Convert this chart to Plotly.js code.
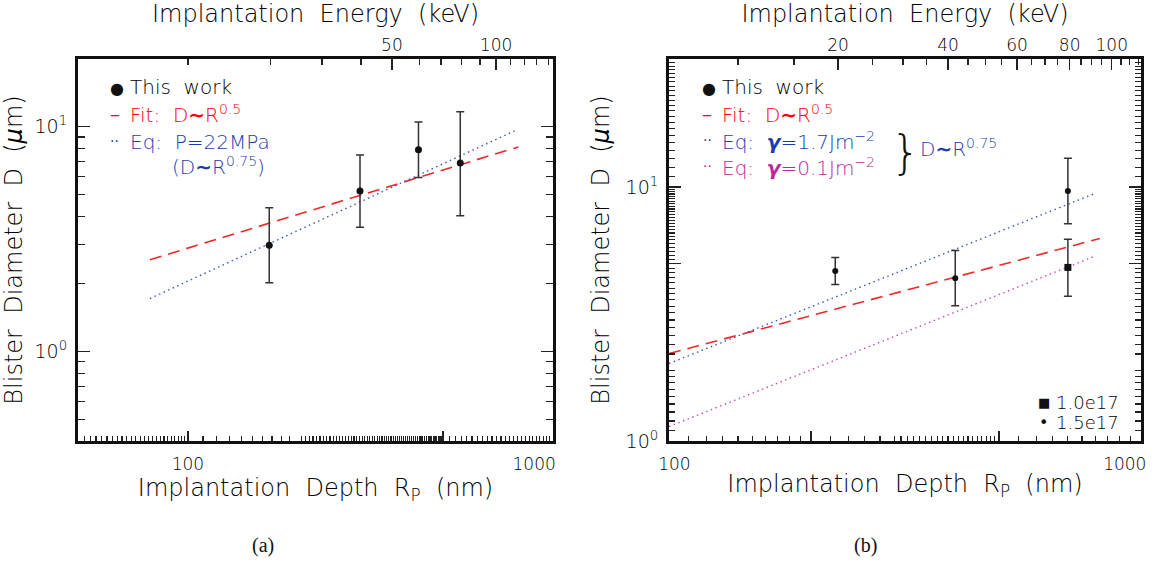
<!DOCTYPE html>
<html>
<head>
<meta charset="utf-8">
<script src="https://cdn.plot.ly/plotly-3.0.1.min.js"></script>
<style>html,body{margin:0;padding:0;background:#fff;}</style>
</head>
<body>
<div id="chart" style="width:1157px;height:565px;"></div>
<script>
// ---------------- DATA ----------------
// Panel (a)
const depthA      = [167, 296, 428, 557];      // nm
const diamA       = [2.97, 5.18, 7.9, 6.9];    // µm
const diamA_hi    = [4.36, 7.48, 10.5, 11.66];
const diamA_lo    = [2.02, 3.57, 5.95, 4.02];
const fitA_x      = [78.7, 804];
const fitA_y      = [2.56, 8.13];
const eqA_x       = [78.7, 787];
const eqA_y       = [1.72, 9.6];
// top energy axis of (a): energy (keV) -> depth (nm)
const energyA_major      = [50, 100];
const energyA_majorDepth = [362, 698];
const energyA_minor      = [10, 20, 30, 40, 60, 70, 80, 90, 110, 120, 130, 140];
const energyA_minorDepth = [100, 168, 233, 298, 430, 493, 560, 631, 766, 834, 902, 970];

// Panel (b)
const depthB_c    = [225, 404, 700];           // 1.5e17 (circles)
const diamB_c     = [4.68, 4.38, 9.67];
const diamB_c_hi  = [5.29, 5.63, 13.0];
const diamB_c_lo  = [4.14, 3.41, 7.17];
const depthB_s    = [700];                     // 1.0e17 (square)
const diamB_s     = [4.83];
const diamB_s_hi  = [6.24];
const diamB_s_lo  = [3.72];
const fitB_x      = [100, 818];
const fitB_y      = [2.21, 6.28];
const eqB1_x      = [100, 799];                // gamma = 1.7 J/m2
const eqB1_y      = [2.02, 9.45];
const eqB2_x      = [100, 799];                // gamma = 0.1 J/m2
const eqB2_y      = [1.14, 5.35];
const energyB_major      = [20, 40, 60, 80, 100];
const energyB_majorDepth = [228, 390, 546, 706, 867];
const energyB_minor      = [10, 15, 25, 30, 35, 45, 50, 55, 65, 70, 75, 85, 90, 95, 105, 110, 115];
const energyB_minorDepth = [140, 184, 270, 313, 351, 430, 468, 507, 586, 626, 666, 746, 786, 826, 907, 947, 987];

// ---------------- helpers ----------------
function range(a, b, s) { const r = []; for (let v = a; v <= b + 1e-9; v += s) r.push(+v.toFixed(3)); return r; }
const sub = (a, b) => a.map((v, i) => v - b[i]);

const FONT = 'DejaVu Sans';
const W8 = 300;
const INK = '#000';
const RED = 'rgb(240,40,40)';
const BLUE = 'rgb(60,90,175)';
const MAG = 'rgb(200,80,165)';
const RED_T = 'rgb(255,0,0)';
const BLUE_T = 'rgb(30,60,170)';
const MAG_T = 'rgb(190,40,150)';
const NB = '\u00a0';

// minor tick sets (axis decoration)
const xA_minor = [].concat(range(52, 98, 2), range(110, 190, 10), range(205, 495, 5), range(520, 980, 20));
const xB_minor = [].concat(range(110, 190, 10), range(220, 280, 20), range(300, 490, 10), range(550, 950, 50));
const yA_minor = [0.5, 0.6, 0.7, 0.8, 0.9, 2, 3, 4, 5, 6, 7, 8, 9];
const yB_minor = [].concat(range(1.1, 1.9, 0.1), range(2.2, 4.8, 0.2), range(5.2, 9.8, 0.2), range(11, 31, 1));

const errBar = (hi, lo, y) => ({type: 'data', symmetric: false, array: sub(hi, y), arrayminus: sub(y, lo),
  color: '#333', thickness: 1.5, width: 4});

const traces = [
  // panel (a)
  {x: fitA_x, y: fitA_y, xaxis: 'x', yaxis: 'y', mode: 'lines', line: {color: RED, width: 1.6, dash: '12px,7px'}, hoverinfo: 'skip'},
  {x: eqA_x, y: eqA_y, xaxis: 'x', yaxis: 'y', mode: 'lines', line: {color: BLUE, width: 1.4, dash: '1.5px,3.5px'}, hoverinfo: 'skip'},
  {x: depthA, y: diamA, xaxis: 'x', yaxis: 'y', mode: 'markers', marker: {color: '#111', size: 7},
   error_y: errBar(diamA_hi, diamA_lo, diamA)},
  {x: energyA_majorDepth, y: [1, 1], xaxis: 'x3', yaxis: 'y', mode: 'markers', marker: {opacity: 0}, hoverinfo: 'skip'},
  // panel (b)
  {x: fitB_x, y: fitB_y, xaxis: 'x2', yaxis: 'y2', mode: 'lines', line: {color: RED, width: 1.6, dash: '12px,7px'}, hoverinfo: 'skip'},
  {x: eqB1_x, y: eqB1_y, xaxis: 'x2', yaxis: 'y2', mode: 'lines', line: {color: BLUE, width: 1.4, dash: '1.5px,3.5px'}, hoverinfo: 'skip'},
  {x: eqB2_x, y: eqB2_y, xaxis: 'x2', yaxis: 'y2', mode: 'lines', line: {color: MAG, width: 1.4, dash: '1.5px,3.5px'}, hoverinfo: 'skip'},
  {x: depthB_c, y: diamB_c, xaxis: 'x2', yaxis: 'y2', mode: 'markers', marker: {color: '#111', size: 6},
   error_y: errBar(diamB_c_hi, diamB_c_lo, diamB_c)},
  {x: depthB_s, y: diamB_s, xaxis: 'x2', yaxis: 'y2', mode: 'markers', marker: {color: '#111', size: 7, symbol: 'square'},
   error_y: errBar(diamB_s_hi, diamB_s_lo, diamB_s)},
  {x: energyB_majorDepth, y: [2, 2, 2, 2, 2], xaxis: 'x4', yaxis: 'y2', mode: 'markers', marker: {opacity: 0}, hoverinfo: 'skip'}
];

const tickFont = {family: FONT, size: 17, color: INK, weight: W8};
const yTickFont = {family: FONT, size: 19, color: INK, weight: W8};
const titleFont = {family: FONT, size: 24, color: INK, weight: W8};
const common = {
  type: 'log', showgrid: false, zeroline: false, ticks: 'inside', tickcolor: '#222', tickwidth: 1.5,
  automargin: false, fixedrange: true, tickfont: tickFont, ticklabeloverflow: 'allow'
};
const frame = {showline: true, linecolor: '#111', linewidth: 3};
const minorOf = (vals, len) => ({tickmode: 'array', tickvals: vals, ticks: 'inside', ticklen: len, tickcolor: '#222', tickwidth: 1.2, showgrid: false});

const xTitleBottom = 'Implantation' + NB + NB + 'Depth' + NB + NB + 'R<sub>P</sub>' + NB + NB + '(nm)';
const xTitleTop = 'Implantation' + NB + NB + 'Energy' + NB + NB + '(keV)';
const yTitle = 'Blister' + NB + NB + 'Diameter' + NB + NB + 'D' + NB + NB + '(<i>μ</i>m)';

const layout = {
  width: 1157, height: 565,
  margin: {l: 78, r: 16, t: 59, b: 124, pad: 0},
  paper_bgcolor: '#fff', plot_bgcolor: '#fff',
  showlegend: false,
  font: {family: FONT, color: INK, weight: W8},
  xaxis: Object.assign({}, common, frame, {
    domain: [0, 0.4469], anchor: 'y', mirror: true,
    range: [Math.log10(50), 3],
    tickmode: 'array', tickvals: [100, 500, 1000], ticktext: ['100', '', '1000' + NB.repeat(7)],
    ticklen: 10, ticklabelstandoff: 6,
    minor: minorOf(xA_minor, 5),
    title: {text: xTitleBottom, font: titleFont, standoff: 2}
  }),
  xaxis3: Object.assign({}, common, {
    overlaying: 'x', side: 'top', anchor: 'y', showline: false,
    range: [Math.log10(50), 3],
    tickmode: 'array', tickvals: energyA_majorDepth, ticktext: energyA_major.map(String),
    ticklen: 11, ticklabelstandoff: 4,
    minor: minorOf(energyA_minorDepth, 6),
    title: {text: xTitleTop, font: titleFont, standoff: 8}
  }),
  yaxis: Object.assign({}, common, frame, {
    domain: [0, 1], anchor: 'x', mirror: 'ticks',
    range: [Math.log10(0.4), Math.log10(20)],
    tickmode: 'array', tickvals: [1, 10], ticktext: ['10<sup>0</sup>', '10<sup>1</sup>'],
    tickfont: yTickFont,
    ticklen: 12, ticklabelstandoff: 4,
    minor: minorOf(yA_minor, 7),
    title: {text: yTitle, font: titleFont, standoff: 10}
  }),
  xaxis2: Object.assign({}, common, frame, {
    domain: [0.556, 1], anchor: 'y2', mirror: true,
    range: [2, 3],
    tickmode: 'array', tickvals: [100, 200, 500, 1000], ticktext: [NB.repeat(2) + '100', '', '', '1000' + NB.repeat(6)],
    ticklen: 10, ticklabelstandoff: 6,
    minor: minorOf(xB_minor, 5),
    title: {text: xTitleBottom, font: titleFont, standoff: 2}
  }),
  xaxis4: Object.assign({}, common, {
    overlaying: 'x2', side: 'top', anchor: 'y2', showline: false,
    range: [2, 3],
    tickmode: 'array', tickvals: energyB_majorDepth, ticktext: energyB_major.map(String),
    ticklen: 11, ticklabelstandoff: 4,
    minor: minorOf(energyB_minorDepth, 6),
    title: {text: xTitleTop, font: titleFont, standoff: 8}
  }),
  yaxis2: Object.assign({}, common, frame, {
    domain: [0, 1], anchor: 'x2', mirror: 'ticks',
    range: [0, Math.log10(32)],
    tickmode: 'array', tickvals: [1, 5, 10], ticktext: ['10<sup>0</sup>', '', '10<sup>1</sup>'],
    tickfont: yTickFont,
    ticklen: 12, ticklabelstandoff: 4,
    minor: minorOf(yB_minor, 6),
    title: {text: yTitle, font: titleFont, standoff: 10}
  }),
  annotations: []
};

// ---------- legend texts (annotations placed by pixel) ----------
const PL = 78, PR = 1141, PT = 59, PB = 441;
const pxX = x => (x - PL) / (PR - PL);
const pxY = y => (PB - y) / (PB - PT);
function note(x, y, text, color, size, opts) {
  layout.annotations.push(Object.assign({
    xref: 'paper', yref: 'paper', x: pxX(x), y: pxY(y), text: text, showarrow: false,
    xanchor: 'left', yanchor: 'middle', font: {family: FONT, size: size || 20, color: color || INK, weight: W8}
  }, opts || {}));
}
const tilde = '<b>∼</b>';
// panel (a) legend
note(108, 88, '●', '#111', 16, {font: {family: FONT, size: 16, color: '#111', weight: 400}});
note(128, 87, 'This' + NB + NB + 'work', INK, 20);
note(108, 114, '–', RED_T, 20, {font: {family: FONT, size: 20, color: RED_T, weight: 400}});
note(128, 114, 'Fit:' + NB + NB + 'D' + tilde + 'R<sup>0.5</sup>', RED_T, 20);
note(108, 141, '··', BLUE_T, 14, {font: {family: FONT, size: 14, color: BLUE_T, weight: 400}});
note(128, 142, 'Eq:' + NB + NB + 'P=22MPa', BLUE_T, 20);
note(170, 166, '(D' + tilde + 'R<sup>0.75</sup>)', BLUE_T, 20);
// panel (b) legend
note(700, 88, '●', '#111', 16, {font: {family: FONT, size: 16, color: '#111', weight: 400}});
note(720, 87, 'This' + NB + NB + 'work', INK, 20);
note(700, 114, '–', RED_T, 20, {font: {family: FONT, size: 20, color: RED_T, weight: 400}});
note(720, 114, 'Fit:' + NB + NB + 'D' + tilde + 'R<sup>0.5</sup>', RED_T, 20);
note(701, 140, '··', BLUE_T, 14, {font: {family: FONT, size: 14, color: BLUE_T, weight: 400}});
note(720, 141, 'Eq:' + NB + NB + '<b><i>γ</i></b>=1.7Jm<sup>−2</sup>', BLUE_T, 20);
note(701, 166, '··', MAG_T, 14, {font: {family: FONT, size: 14, color: MAG_T, weight: 400}});
note(720, 167, 'Eq:' + NB + NB + '<b><i>γ</i></b>=0.1Jm<sup>−2</sup>', MAG_T, 20);
note(889, 152, '}', INK, 46, {font: {family: FONT, size: 46, color: '#111', weight: 300}});
note(918, 148, 'D' + tilde + 'R<sup>0.75</sup>', BLUE_T, 20);
// bottom-right key
note(1036, 402, '■', '#111', 13, {font: {family: FONT, size: 13, color: '#111', weight: 400}});
note(1054, 402, '1.0e17', INK, 18);
note(1037, 422, '•', '#111', 16, {font: {family: FONT, size: 16, color: '#111', weight: 400}});
note(1054, 422, '1.5e17', INK, 18);
// captions
note(263, 545, '(a)', '#111', 20, {xanchor: 'center', font: {family: 'Liberation Serif', size: 20, color: '#111'}});
note(865, 545, '(b)', '#111', 20, {xanchor: 'center', font: {family: 'Liberation Serif', size: 20, color: '#111'}});

Plotly.newPlot('chart', traces, layout, {staticPlot: true, displayModeBar: false});
</script>
</body>
</html>
